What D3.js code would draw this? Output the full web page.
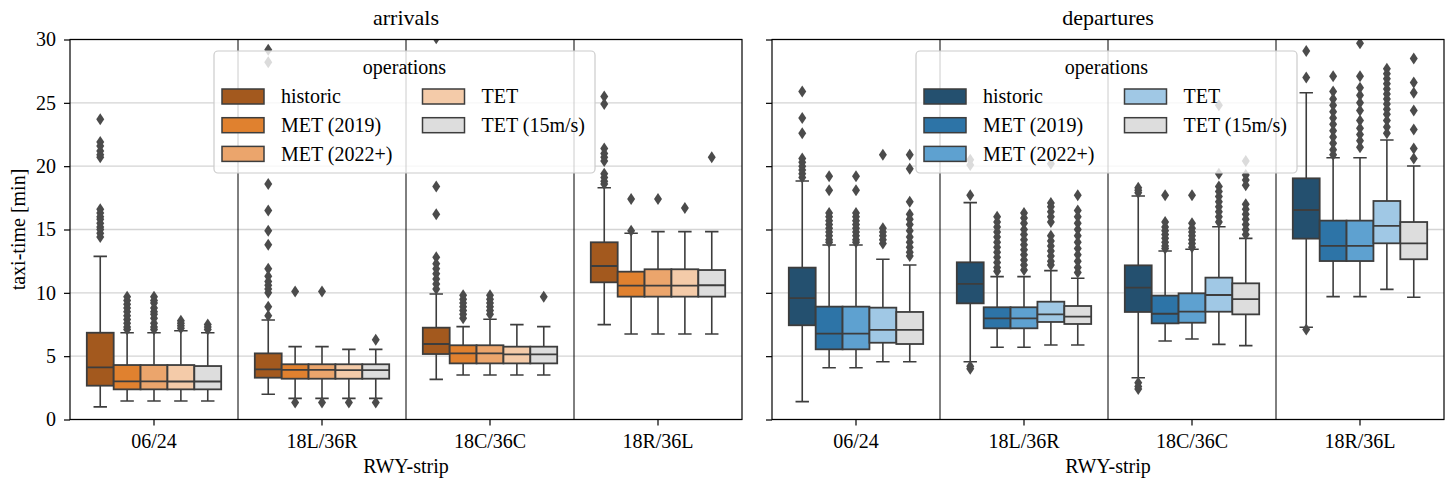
<!DOCTYPE html>
<html><head><meta charset="utf-8">
<script src="https://cdn.jsdelivr.net/npm/d3@7"></script>
<style>body{margin:0;background:#fff}svg{display:block}</style>
</head><body>
<script>
// ---------- data ----------
const categories = ["06/24", "18L/36R", "18C/36C", "18R/36L"];
const operations = ["historic", "MET (2019)", "MET (2022+)", "TET", "TET (15m/s)"];
const arrColors = ["#a3591e", "#e0812f", "#eba56c", "#f4cba9", "#dddddd"];
const depColors = ["#24506f", "#2d74a7", "#5ea1d0", "#a0c8e5", "#dddddd"];
const yTicks = [0, 5, 10, 15, 20, 25, 30];

// box stats per category: [whiskerLow, q1, median, q3, whiskerHigh] for each operation
const arrStats = [
  [[1.0, 2.67, 4.12, 6.85, 12.88], [1.46, 2.38, 3.01, 4.30, 6.85], [1.46, 2.38, 3.01, 4.30, 6.85], [1.46, 2.38, 3.0, 4.30, 7.01], [1.46, 2.38, 3.0, 4.22, 6.85]],
  [[1.99, 3.30, 3.96, 5.22, 7.86], [1.67, 3.22, 3.91, 4.36, 5.75], [1.67, 3.22, 3.91, 4.36, 5.75], [1.67, 3.22, 3.9, 4.36, 5.54], [1.67, 3.22, 3.9, 4.36, 5.54]],
  [[3.17, 5.17, 5.96, 7.25, 9.91], [3.51, 4.43, 5.22, 5.86, 7.33], [3.51, 4.43, 5.22, 5.86, 7.91], [3.51, 4.43, 5.14, 5.75, 7.49], [3.51, 4.43, 5.14, 5.75, 7.33]],
  [[7.49, 10.83, 12.12, 13.99, 18.30], [6.75, 9.70, 10.57, 11.67, 14.70], [6.75, 9.70, 10.57, 11.86, 14.83], [6.75, 9.70, 10.57, 11.86, 14.83], [6.75, 9.70, 10.6, 11.8, 14.83]]
];
const arrOutliers = [
  [[23.7, 21.9, 21.6, 21.2, 20.9, 20.7, 16.6, 16.3, 16.0, 15.8, 15.5, 15.2, 15.0, 14.7, 14.4],
   [9.7, 9.4, 9.1, 8.8, 8.5, 8.2, 7.9, 7.6, 7.3, 7.1],
   [9.7, 9.4, 9.2, 8.8, 8.5, 8.3, 8.0, 7.6, 7.3, 7.1],
   [7.8, 7.6, 7.4, 7.2],
   [7.5, 7.3, 7.1]],
  [[29.2, 28.2, 18.6, 16.5, 14.9, 13.8, 11.9, 11.3, 10.9, 10.6, 10.3, 10.0, 8.9, 8.2],
   [10.1, 1.35],
   [10.1, 1.35],
   [1.35],
   [6.3, 1.35]],
  [[30.1, 18.4, 16.2, 12.8, 12.3, 11.9, 11.5, 11.1, 10.7, 10.3],
   [9.8, 9.5, 9.2, 8.9, 8.6, 8.3, 8.0],
   [9.8, 9.5, 9.2, 8.9, 8.6, 8.3],
   [],
   [9.7]],
  [[25.5, 24.9, 21.4, 21.0, 20.7, 20.4, 19.4, 19.1, 18.8, 18.6],
   [17.4, 14.9],
   [17.4],
   [16.7],
   [20.7]]
];
const depStats = [
  [[1.41, 7.44, 9.59, 11.99, 18.83], [4.09, 5.54, 6.78, 8.91, 13.78], [4.09, 5.54, 6.78, 8.91, 13.78], [4.56, 6.06, 7.07, 8.83, 12.65], [4.56, 5.96, 7.07, 8.49, 12.20]],
  [[4.56, 9.17, 10.70, 12.41, 17.12], [5.70, 7.20, 7.99, 8.86, 11.28], [5.70, 7.20, 7.99, 8.86, 11.28], [5.88, 7.70, 8.30, 9.30, 11.75], [5.88, 7.54, 8.12, 8.96, 11.15]],
  [[3.30, 8.49, 10.41, 12.17, 17.64], [6.20, 7.59, 8.35, 9.78, 13.30], [6.36, 7.64, 8.51, 9.96, 13.44], [5.93, 8.51, 9.83, 11.20, 15.22], [5.83, 8.30, 9.51, 10.75, 14.30]],
  [[7.28, 14.28, 16.54, 19.04, 25.8], [9.70, 12.51, 13.70, 15.70, 20.67], [9.70, 12.51, 13.70, 15.70, 20.67], [10.27, 13.91, 15.28, 17.25, 22.07], [9.65, 12.65, 13.91, 15.59, 20.01]]
];
const depOutliers = [
  [[25.9, 23.8, 22.6, 20.6, 20.3, 20.0, 19.7, 19.4, 19.1],
   [19.2, 18.1, 16.3, 16.0, 15.7, 15.4, 15.1, 14.8, 14.5, 14.2, 14.0],
   [19.2, 18.1, 16.3, 16.0, 15.7, 15.4, 15.1, 14.8, 14.5, 14.2, 14.0],
   [20.9, 15.1, 14.8, 14.5, 14.2, 13.9],
   [20.9, 19.8, 17.2, 16.2, 15.8, 15.4, 14.9, 14.4, 14.0, 13.6, 13.2, 12.9]],
  [[20.5, 20.1, 17.7, 4.2, 4.0],
   [16.0, 15.6, 15.2, 14.8, 14.4, 14.0, 13.6, 13.2, 12.8, 12.4, 12.0, 11.7],
   [16.3, 15.9, 15.5, 15.0, 14.6, 14.2, 13.8, 13.4, 13.0, 12.6, 12.2, 11.8],
   [20.2, 17.1, 16.8, 16.4, 16.0, 15.6, 14.5, 14.1, 13.7, 13.3, 12.9, 12.5, 12.2],
   [17.7, 16.5, 16.0, 15.5, 15.0, 14.5, 14.0, 13.5, 13.0, 12.5, 12.0, 11.6]],
  [[18.3, 18.1, 17.9, 2.9, 2.6, 2.4],
   [17.7, 15.6, 15.2, 14.9, 14.6, 14.3, 14.0, 13.7, 13.5],
   [17.7, 15.5, 15.1, 14.8, 14.5, 14.2, 13.9, 13.6],
   [24.8, 19.4, 18.4, 18.0, 17.6, 17.2, 16.8, 16.4, 16.0, 15.6],
   [20.4, 19.3, 18.9, 18.5, 17.0, 16.6, 16.2, 15.8, 15.4, 15.0, 14.6]],
  [[29.1, 27.0, 7.1],
   [27.1, 25.9, 25.3, 24.8, 24.3, 23.8, 23.3, 22.8, 22.3, 21.8, 21.3, 20.9],
   [29.7, 27.1, 26.2, 25.6, 25.0, 24.4, 23.6, 23.0, 22.5, 22.0, 21.5],
   [27.7, 27.3, 26.9, 26.5, 26.1, 25.7, 25.3, 24.9, 24.5, 24.1, 23.6, 23.1, 22.6],
   [28.5, 26.6, 25.8, 24.4, 22.9, 21.4, 20.6]]
];

// ---------- drawing ----------
const W = 1453, H = 485;
const FONT = "'Liberation Serif', 'Times New Roman', serif";
const FS = "20px";
const EDGE = "#3d3d3d";
const svg = d3.select("body").append("svg").attr("width", W).attr("height", H)
  .style("font-family", FONT);

const yTop = 39.5, yBottom = 419.5;
const y = d3.scaleLinear().domain([0, 30]).range([yBottom, yTop]);

const panels = [
  {title: "arrivals", x0: 70, x1: 742, stats: arrStats, outliers: arrOutliers, colors: arrColors, labels: true, id: "a"},
  {title: "departures", x0: 772, x1: 1444, stats: depStats, outliers: depOutliers, colors: depColors, labels: false, id: "d"}
];

panels.forEach(p => {
  const g = svg.append("g");
  const x = d3.scaleBand().domain(categories).range([p.x0, p.x1]).padding(0);
  const hue = d3.scaleBand().domain(operations).range([0.1 * x.bandwidth(), 0.9 * x.bandwidth()]).padding(0);

  svg.append("clipPath").attr("id", "clip" + p.id).append("rect")
    .attr("x", p.x0).attr("y", yTop).attr("width", p.x1 - p.x0).attr("height", yBottom - yTop);

  // grid
  g.append("g").selectAll("line").data(yTicks).join("line")
    .attr("x1", p.x0).attr("x2", p.x1).attr("y1", d => y(d)).attr("y2", d => y(d))
    .attr("stroke", "#d4d4d4").attr("stroke-width", 1.4);

  // category separators
  g.append("g").selectAll("line").data(categories.slice(1)).join("line")
    .attr("x1", d => x(d)).attr("x2", d => x(d)).attr("y1", yTop).attr("y2", yBottom)
    .attr("stroke", "#000").attr("stroke-width", 1);

  const marks = g.append("g").attr("clip-path", `url(#clip${p.id})`);
  categories.forEach((cat, ci) => {
    operations.forEach((op, oi) => {
      const s = p.stats[ci][oi];
      const bx = x(cat) + hue(op), bw = hue.bandwidth();
      const cx = bx + bw / 2, cap = bw * 0.5;
      const mg = marks.append("g");
      mg.append("line").attr("x1", cx).attr("x2", cx).attr("y1", y(s[3])).attr("y2", y(s[4]))
        .attr("stroke", EDGE).attr("stroke-width", 1.6);
      mg.append("line").attr("x1", cx).attr("x2", cx).attr("y1", y(s[1])).attr("y2", y(s[0]))
        .attr("stroke", EDGE).attr("stroke-width", 1.6);
      [s[0], s[4]].forEach(v => mg.append("line")
        .attr("x1", cx - cap / 2).attr("x2", cx + cap / 2).attr("y1", y(v)).attr("y2", y(v))
        .attr("stroke", EDGE).attr("stroke-width", 1.6));
      mg.append("rect").attr("x", bx).attr("width", bw).attr("y", y(s[3])).attr("height", y(s[1]) - y(s[3]))
        .attr("fill", p.colors[oi]).attr("stroke", EDGE).attr("stroke-width", 1.8);
      mg.append("line").attr("x1", bx).attr("x2", bx + bw).attr("y1", y(s[2])).attr("y2", y(s[2]))
        .attr("stroke", EDGE).attr("stroke-width", 1.8);
      mg.selectAll("path").data(p.outliers[ci][oi]).join("path")
        .attr("d", "M0,-6L4,0L0,6L-4,0Z")
        .attr("transform", d => `translate(${cx},${y(d)})`)
        .attr("fill", "#4b4b4b");
    });
  });

  // spines
  g.append("rect").attr("x", p.x0).attr("y", yTop).attr("width", p.x1 - p.x0).attr("height", yBottom - yTop)
    .attr("fill", "none").attr("stroke", "#000").attr("stroke-width", 1.2);

  // y axis
  const ya = g.append("g").attr("transform", `translate(${p.x0},0)`)
    .call(d3.axisLeft(y).tickValues(yTicks).tickSize(6).tickPadding(8).tickFormat(p.labels ? d3.format("d") : () => ""));
  ya.select(".domain").remove();
  ya.selectAll("line").attr("stroke", "#000").attr("stroke-width", 1.2);
  ya.selectAll("text").attr("font-size", FS).attr("font-family", FONT).attr("fill", "#000");

  // x axis
  const xa = g.append("g").attr("transform", `translate(0,${yBottom})`)
    .call(d3.axisBottom(x).tickSize(6).tickPadding(8));
  xa.select(".domain").remove();
  xa.selectAll("line").attr("stroke", "#000").attr("stroke-width", 1.2);
  xa.selectAll("text").attr("font-size", FS).attr("font-family", FONT).attr("fill", "#000");

  g.append("text").attr("x", (p.x0 + p.x1) / 2).attr("y", 473).attr("text-anchor", "middle")
    .attr("font-size", FS).text("RWY-strip");
  g.append("text").attr("x", (p.x0 + p.x1) / 2).attr("y", 25).attr("text-anchor", "middle")
    .attr("font-size", "22px").text(p.title);

  // legend
  const lx = p.x0 + 144, ly = 51, lw = 381, lh = 122;
  const lg = g.append("g");
  lg.append("rect").attr("x", lx).attr("y", ly).attr("width", lw).attr("height", lh).attr("rx", 4)
    .attr("fill", "#fff").attr("fill-opacity", 0.8).attr("stroke", "#cccccc").attr("stroke-width", 1.2);
  lg.append("text").attr("x", lx + lw / 2).attr("y", ly + 23).attr("text-anchor", "middle")
    .attr("font-size", FS).text("operations");
  operations.forEach((op, i) => {
    const col = i < 3 ? 0 : 1, row = i < 3 ? i : i - 3;
    const px = lx + 8 + col * 200.5, cy = ly + 45.5 + row * 28.7;
    lg.append("rect").attr("x", px).attr("y", cy - 7.5).attr("width", 42).attr("height", 15)
      .attr("fill", p.colors[i]).attr("stroke", EDGE).attr("stroke-width", 1.5);
    lg.append("text").attr("x", px + 59).attr("y", cy + 6.6).attr("font-size", FS).text(op);
  });
});

svg.append("text").attr("transform", `translate(25,${(yTop + yBottom) / 2}) rotate(-90)`)
  .attr("text-anchor", "middle").attr("font-size", FS).text("taxi-time [min]");
</script>
</body></html>
